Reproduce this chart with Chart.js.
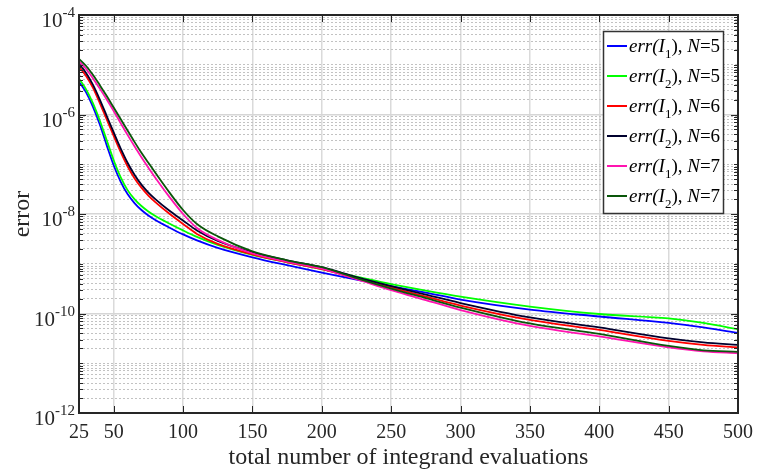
<!DOCTYPE html>
<html>
<head>
<meta charset="utf-8">
<script src="https://cdn.jsdelivr.net/npm/chart.js@4.4.1/dist/chart.umd.min.js"></script>
<style>
  body { margin: 0; background: #fff; }
  #wrap { width: 761px; height: 474px; }
</style>
</head>
<body>
<div id="wrap"><canvas id="errChart"></canvas></div>
<script>
// number of integrand evaluations
var evals = [25, 30, 35, 40, 45, 50, 55, 60, 65, 70, 75, 80, 90, 100, 110, 125, 150, 175, 200, 225, 250, 275, 300, 350, 400, 450, 475, 500];

// log10(error), one list per curve
var err1N5 = [-5.34, -5.55, -5.84, -6.20, -6.62, -7.02, -7.35, -7.60, -7.78, -7.92, -8.03, -8.12, -8.27, -8.41, -8.53, -8.68, -8.87, -9.03, -9.18, -9.32, -9.45, -9.58, -9.72, -9.92, -10.06, -10.19, -10.28, -10.39];
var err2N5 = [-5.28, -5.49, -5.77, -6.12, -6.52, -6.92, -7.26, -7.52, -7.70, -7.84, -7.95, -8.04, -8.19, -8.33, -8.46, -8.62, -8.82, -8.97, -9.11, -9.26, -9.41, -9.54, -9.66, -9.86, -10.01, -10.10, -10.19, -10.32];
var err1N6 = [-5.04, -5.22, -5.46, -5.77, -6.10, -6.43, -6.75, -7.04, -7.28, -7.47, -7.63, -7.76, -7.99, -8.20, -8.40, -8.60, -8.81, -8.97, -9.11, -9.30, -9.48, -9.66, -9.84, -10.13, -10.33, -10.55, -10.63, -10.68];
var err2N6 = [-4.98, -5.16, -5.40, -5.70, -6.03, -6.36, -6.68, -6.97, -7.21, -7.41, -7.57, -7.70, -7.93, -8.13, -8.33, -8.54, -8.77, -8.93, -9.07, -9.27, -9.45, -9.62, -9.79, -10.08, -10.28, -10.50, -10.58, -10.63];
var err1N7 = [-4.93, -5.08, -5.27, -5.48, -5.70, -5.93, -6.17, -6.41, -6.64, -6.86, -7.07, -7.27, -7.65, -8.00, -8.28, -8.52, -8.79, -8.96, -9.10, -9.31, -9.53, -9.73, -9.93, -10.25, -10.46, -10.68, -10.76, -10.80];
var err2N7 = [-4.88, -5.02, -5.20, -5.41, -5.63, -5.86, -6.09, -6.32, -6.55, -6.77, -6.97, -7.17, -7.56, -7.92, -8.20, -8.45, -8.75, -8.93, -9.07, -9.29, -9.50, -9.69, -9.88, -10.20, -10.41, -10.65, -10.74, -10.77];

var series = [err1N5, err2N5, err1N6, err2N6, err1N7, err2N7];
var couleurs = ['#0000ff', '#00ff00', '#ff0000', '#00002e', '#ff14b0', '#0a560a'];
var legendeI = ['1', '2', '1', '2', '1', '2'];
var legendeN = ['5', '5', '6', '6', '7', '7'];

var xTicks = [25, 50, 100, 150, 200, 250, 300, 350, 400, 450, 500];
var yLabelExp = [-4, -6, -8, -10, -12];

var SERIF = '"Liberation Serif", "Times New Roman", serif';
var INK = '#262626';

// all the 1..9 x 10^k positions from 1e-12 up to 1e-4
var yTickVals = [];
for (var k = -12; k < -4; k++) {
  for (var m = 1; m < 10; m++) yTickVals.push(m * Math.pow(10, k));
}
yTickVals.push(1e-4);

function expOf(v) {
  var e = Math.log10(v);
  return Math.abs(e - Math.round(e)) < 1e-6 ? Math.round(e) : null;
}
function isLabelled(v) {
  var e = expOf(v);
  return e !== null && yLabelExp.indexOf(e) >= 0;
}

// box, inward ticks, 10^n labels and the legend (MATLAB look)
var cadre = {
  id: 'cadre',
  afterDraw: function(chart) {
    var ctx = chart.ctx, a = chart.chartArea, x = chart.scales.x, y = chart.scales.y;
    ctx.save();
    ctx.strokeStyle = INK;
    ctx.lineWidth = 1;
    ctx.beginPath();
    xTicks.forEach(function(v) {
      var px = Math.round(x.getPixelForValue(v)) + 0.5;
      ctx.moveTo(px, a.bottom); ctx.lineTo(px, a.bottom - 7);
      ctx.moveTo(px, a.top); ctx.lineTo(px, a.top + 7);
    });
    yTickVals.forEach(function(v) {
      var py = Math.round(y.getPixelForValue(v)) + 0.5;
      var len = isLabelled(v) ? 7 : 4;
      ctx.moveTo(a.left, py); ctx.lineTo(a.left + len, py);
      ctx.moveTo(a.right, py); ctx.lineTo(a.right - len, py);
    });
    ctx.stroke();
    ctx.lineWidth = 2;
    ctx.strokeRect(a.left, a.top, a.right - a.left, a.bottom - a.top);

    // y tick labels: 10 with raised exponent
    ctx.fillStyle = INK;
    ctx.textAlign = 'right';
    ctx.textBaseline = 'alphabetic';
    yLabelExp.forEach(function(e) {
      var py = y.getPixelForValue(Math.pow(10, e));
      var sup = String(e);
      ctx.font = '15px ' + SERIF;
      var sw = ctx.measureText(sup).width;
      ctx.fillText(sup, 75, py + 2);
      ctx.font = '21px ' + SERIF;
      ctx.fillText('10', 75 - sw, py + 12);
    });

    // legend
    var lx = 603.5, ly = 31.5, lw = 120, lh = 182;
    ctx.fillStyle = '#fff';
    ctx.fillRect(lx, ly, lw, lh);
    ctx.lineWidth = 1.5;
    ctx.strokeStyle = '#333';
    ctx.strokeRect(lx, ly, lw, lh);
    ctx.textAlign = 'left';
    for (var i = 0; i < series.length; i++) {
      var ry = 46 + 30 * i;
      ctx.strokeStyle = couleurs[i];
      ctx.lineWidth = 2;
      ctx.beginPath(); ctx.moveTo(607, ry); ctx.lineTo(627, ry); ctx.stroke();
      ctx.fillStyle = '#000';
      var cx = 629, base = ry + 6;
      var parts = [
        ['italic 19px ' + SERIF, 'err(I', 0],
        ['13px ' + SERIF, legendeI[i], 6],
        ['19px ' + SERIF, '), ', 0],
        ['italic 19px ' + SERIF, 'N', 0],
        ['19px ' + SERIF, '=' + legendeN[i], 0]
      ];
      parts.forEach(function(p) {
        ctx.font = p[0];
        ctx.fillText(p[1], cx, base + p[2]);
        cx += ctx.measureText(p[1]).width;
      });
    }
    ctx.restore();
  }
};

var datasets = series.map(function(s, i) {
  return {
    label: 'err(I' + legendeI[i] + '), N=' + legendeN[i],
    data: evals.map(function(v, j) { return {x: v, y: Math.pow(10, s[j])}; }),
    borderColor: couleurs[i],
    borderWidth: 1.8,
    pointRadius: 0,
    fill: false,
    cubicInterpolationMode: 'monotone',
    order: series.length - i
  };
});

var ctx = document.getElementById('errChart').getContext('2d');
var chart = new Chart(ctx, {
  type: 'line',
  data: { datasets: datasets },
  options: {
    responsive: true,
    maintainAspectRatio: false,
    animation: false,
    layout: { padding: { top: 15, right: 17, left: 0, bottom: 0 } },
    plugins: { legend: { display: false }, tooltip: { enabled: false } },
    scales: {
      x: {
        type: 'linear',
        min: 25,
        max: 500,
        afterBuildTicks: function(scale) {
          scale.ticks = xTicks.map(function(v) { return {value: v}; });
        },
        afterFit: function(scale) { scale.height = 61; },
        ticks: { autoSkip: false, maxRotation: 0, padding: 8, color: INK, font: { family: SERIF, size: 20 } },
        grid: { drawTicks: false, color: '#dadada', lineWidth: 1.5 },
        border: { display: false },
        title: { display: true, text: 'total number of integrand evaluations', color: INK,
                 font: { family: SERIF, size: 24 }, padding: { top: 0, bottom: 2 } }
      },
      y: {
        type: 'logarithmic',
        min: 1e-12,
        max: 1e-4,
        afterBuildTicks: function(scale) {
          scale.ticks = yTickVals.map(function(v) { return {value: v}; });
        },
        afterFit: function(scale) { scale.width = 79; },
        ticks: { autoSkip: false, callback: function() { return ''; } },
        grid: {
          drawTicks: false,
          color: function(c) { return c.tick && isLabelled(c.tick.value) ? '#d6d6d6' : '#c2c2c2'; },
          lineWidth: function(c) { return c.tick && isLabelled(c.tick.value) ? 1.5 : 1; }
        },
        border: {
          display: false,
          dash: function(c) { return c.tick && !isLabelled(c.tick.value) ? [2, 2] : []; }
        },
        title: { display: true, text: 'error', color: INK,
                 font: { family: SERIF, size: 24 }, padding: { top: 8, bottom: 0 } }
      }
    }
  },
  plugins: [cadre]
});
</script>
</body>
</html>
